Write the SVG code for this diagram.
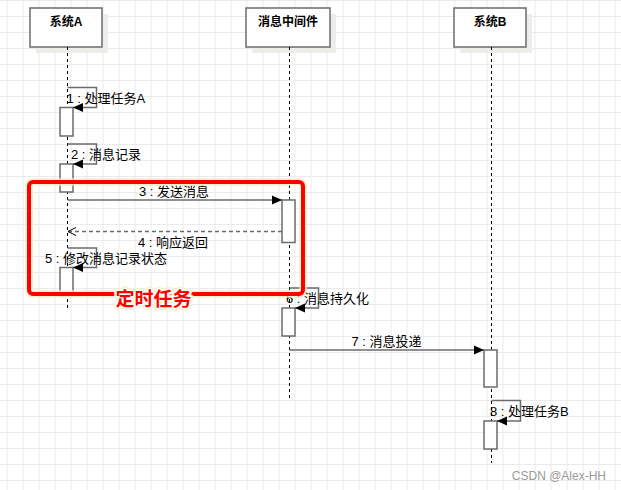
<svg xmlns="http://www.w3.org/2000/svg" width="621" height="490" viewBox="0 0 621 490">
<defs>
<pattern id="grid" x="6.5" y="0" width="16" height="16" patternUnits="userSpaceOnUse">
<path d="M0.5 0V16M0 0.5H16" fill="none" stroke="#ebebeb" stroke-width="1"/>
</pattern>
<marker id="fill" viewBox="0 0 10 10" refX="10" refY="5" markerWidth="10" markerHeight="10" markerUnits="userSpaceOnUse" orient="auto">
<path d="M0 0.5L10 5L0 9.5Z" fill="#000"/>
</marker>
<marker id="open" viewBox="0 0 10 10" refX="9" refY="5" markerWidth="10" markerHeight="10" markerUnits="userSpaceOnUse" orient="auto">
<path d="M1 1L9 5L1 9" fill="none" stroke="#000" stroke-width="1"/>
</marker>
</defs>
<style>
.hdr{fill:#fff;stroke:#6b6b6b;stroke-width:1.5}
.shd{fill:#ededea}
.life{stroke:#000;stroke-width:1;stroke-dasharray:3 3;fill:none}
.act{fill:#fff;stroke:#6b6b6b;stroke-width:1.5}
.msg{fill:none;stroke:#6b6b6b;stroke-width:1.5}
.ht{font-family:"Liberation Sans","Noto Sans CJK SC",sans-serif;font-size:12px;font-weight:bold;fill:#000;text-anchor:middle}
.lt{font-family:"Liberation Sans","Noto Sans CJK SC",sans-serif;font-size:13px;fill:#000}
</style>
<rect width="621" height="490" fill="#fff"/>
<rect width="621" height="490" fill="url(#grid)"/>

<g id="sysA">
<rect class="shd" x="36" y="14" width="72" height="39"/>
<rect class="hdr" x="30" y="8" width="72" height="39"/>
<text class="ht" x="66" y="26">系统A</text>
<line class="life" x1="67.5" y1="47" x2="67.5" y2="308"/>
</g>
<g id="mq">
<rect class="shd" x="252" y="14" width="84" height="39"/>
<rect class="hdr" x="246" y="8" width="84" height="39"/>
<text class="ht" x="288" y="26">消息中间件</text>
<line class="life" x1="289.5" y1="47" x2="289.5" y2="399"/>
</g>
<g id="sysB">
<rect class="shd" x="460" y="14" width="72" height="39"/>
<rect class="hdr" x="454" y="8" width="72" height="39"/>
<text class="ht" x="490" y="26">系统B</text>
<line class="life" x1="491.5" y1="47" x2="491.5" y2="463"/>
</g>

<g id="activations">
<rect class="act" x="60" y="107.5" width="13" height="28.5"/>
<rect class="act" x="60" y="164" width="13" height="28"/>
<rect class="act" x="282" y="200" width="13" height="42.5"/>
<rect class="act" x="60" y="267.5" width="13" height="28"/>
<rect class="act" x="282" y="308" width="13" height="28"/>
<rect class="act" x="484" y="350" width="13" height="37"/>
<rect class="act" x="484" y="421" width="13" height="28"/>
</g>

<g id="connectors">
<path class="msg" d="M67.5 87.5H96.5V107.5H73" marker-end="url(#fill)"/>
<path class="msg" d="M67.5 144H96.5V164H73" marker-end="url(#fill)"/>
<path class="msg" d="M67.5 200H282" marker-end="url(#fill)"/>
<path class="msg" d="M282 231.5H68" stroke-dasharray="4 3" marker-end="url(#open)"/>
<path class="msg" d="M67.5 248H96.5V267.5H73" marker-end="url(#fill)"/>
<path class="msg" d="M289.5 288H318.5V308H295" marker-end="url(#fill)"/>
<path class="msg" d="M289.5 350H484" marker-end="url(#fill)"/>
<path class="msg" d="M491.5 400.5H520.5V421H497" marker-end="url(#fill)"/>
</g>

<g id="labels">
<text class="lt" x="66.5" y="103">1 : 处理任务A</text>
<text class="lt" x="71" y="159">2 : 消息记录</text>
<text class="lt" x="139" y="196">3 : 发送消息</text>
<text class="lt" x="138" y="247">4 : 响应返回</text>
<text class="lt" x="45" y="263">5 : 修改消息记录状态</text>
<text class="lt" x="286" y="303">6 : 消息持久化</text>
<text class="lt" x="351.5" y="346">7 : 消息投递</text>
<text class="lt" x="490" y="416">8 : 处理任务B</text>
</g>

<g id="timer">
<rect x="29" y="182" width="274" height="112" rx="4" fill="none" stroke="#f2eec0" stroke-width="8" opacity="0.7"/>
<rect x="29" y="182" width="274" height="112" rx="4" fill="none" stroke="#ff0000" stroke-width="4"/>
<text x="153.5" y="306" font-family="Liberation Sans,'Noto Sans CJK SC',sans-serif" font-size="19" font-weight="bold" fill="#ff0000" stroke="#f5f2cc" stroke-width="5" stroke-linejoin="round" text-anchor="middle" paint-order="stroke">定时任务</text>
<text x="153.5" y="306" font-family="Liberation Sans,'Noto Sans CJK SC',sans-serif" font-size="19" font-weight="bold" fill="#ff0000" stroke="#fff" stroke-width="2.5" stroke-linejoin="round" text-anchor="middle" paint-order="stroke">定时任务</text>
</g>

<text x="606" y="480" font-family="Liberation Sans,sans-serif" font-size="12" fill="#9a9a9a" text-anchor="end">CSDN @Alex-HH</text>
</svg>
